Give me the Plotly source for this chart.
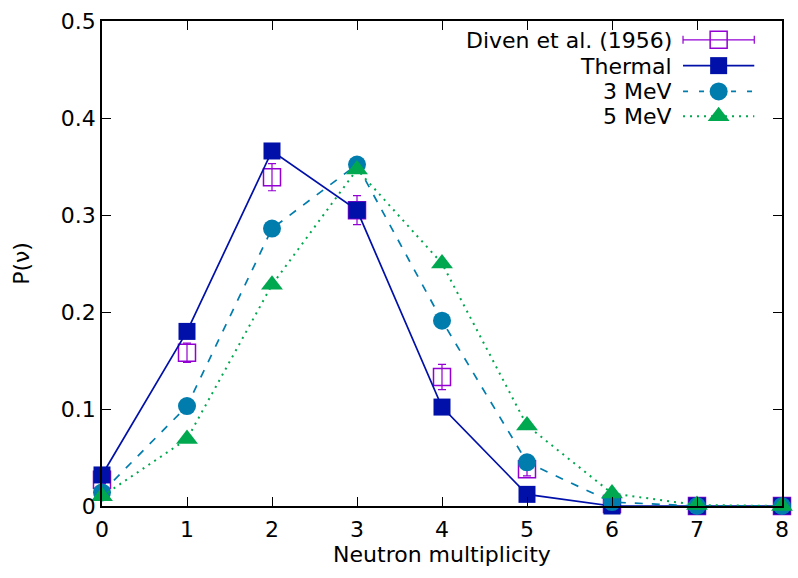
import plotly.graph_objects as go

nu = [0, 1, 2, 3, 4, 5, 6, 7, 8]
diven = [0.027, 0.158, 0.339, 0.305, 0.133, 0.038, 0.002, 0.000, 0.000]
diven_err = [0.004, 0.010, 0.014, 0.015, 0.013, 0.007, 0.001, 0.0, 0.0]
thermal = [0.032, 0.180, 0.366, 0.305, 0.102, 0.012, 0.000, 0.000, 0.000]
mev3 = [0.014, 0.103, 0.286, 0.352, 0.191, 0.045, 0.004, 0.000, 0.000]
mev5 = [0.010, 0.069, 0.228, 0.347, 0.250, 0.083, 0.013, 0.001, 0.000]

legend_labels = ["Diven et al. (1956)", "Thermal", "3 MeV", "5 MeV"]

C_DIVEN = "#9400d3"
C_TH = "#0010a8"
C_3 = "#007cad"
C_5 = "#00a850"
FONT = "DejaVu Sans, sans-serif"
FS = 22

fig = go.Figure()

fig.add_trace(go.Scatter(
    x=nu, y=diven, mode="markers", cliponaxis=False,
    marker=dict(symbol="square-open", size=17, color=C_DIVEN, line=dict(width=1.5, color=C_DIVEN)),
    error_y=dict(type="data", array=diven_err, color=C_DIVEN, thickness=1.2, width=4),
    showlegend=False))
fig.add_trace(go.Scatter(
    x=nu, y=thermal, mode="lines+markers", cliponaxis=False,
    line=dict(color=C_TH, width=1.7),
    marker=dict(symbol="square", size=17, color=C_TH),
    showlegend=False))
fig.add_trace(go.Scatter(
    x=nu, y=mev3, mode="lines+markers", cliponaxis=False,
    line=dict(color=C_3, width=1.7, dash="8px,9px"),
    marker=dict(symbol="circle", size=18, color=C_3),
    showlegend=False))
fig.add_trace(go.Scatter(
    x=nu, y=mev5, mode="lines+markers", cliponaxis=False,
    line=dict(color=C_5, width=2, dash="2px,5px"),
    marker=dict(symbol="triangle-up", size=19, color=C_5),
    showlegend=False))

# custom legend (text left, sample right, as in gnuplot)
L, R, T, B = 102, 789, 17, 506
W, H = R - L, B - T
sx0, sx1, sxc = (689 - L) / W, (761 - L) / W, (725 - L) / W
text_x = (680 - L) / W
rows = [(B - y) / H for y in (36, 62, 88, 113)]

fig.add_trace(go.Scatter(
    x=[sxc], y=[rows[0]], xaxis="x2", yaxis="y2", mode="markers", cliponaxis=False,
    marker=dict(symbol="square-open", size=17, color=C_DIVEN, line=dict(width=1.5, color=C_DIVEN)),
    error_x=dict(type="constant", value=(sx1 - sx0) / 2, color=C_DIVEN, thickness=1.2, width=4),
    showlegend=False, hoverinfo="skip"))
fig.add_trace(go.Scatter(
    x=[sx0, sxc, sx1], y=[rows[1]] * 3, xaxis="x2", yaxis="y2", mode="lines", cliponaxis=False,
    line=dict(color=C_TH, width=1.7), showlegend=False, hoverinfo="skip"))
fig.add_trace(go.Scatter(
    x=[sxc], y=[rows[1]], xaxis="x2", yaxis="y2", mode="markers", cliponaxis=False,
    marker=dict(symbol="square", size=17, color=C_TH), showlegend=False, hoverinfo="skip"))
fig.add_trace(go.Scatter(
    x=[sx0, sx1], y=[rows[2]] * 2, xaxis="x2", yaxis="y2", mode="lines", cliponaxis=False,
    line=dict(color=C_3, width=1.7, dash="5px,11px"), showlegend=False, hoverinfo="skip"))
fig.add_trace(go.Scatter(
    x=[sxc], y=[rows[2]], xaxis="x2", yaxis="y2", mode="markers", cliponaxis=False,
    marker=dict(symbol="circle", size=18, color=C_3), showlegend=False, hoverinfo="skip"))
fig.add_trace(go.Scatter(
    x=[sx0, sx1], y=[rows[3]] * 2, xaxis="x2", yaxis="y2", mode="lines", cliponaxis=False,
    line=dict(color=C_5, width=2, dash="2px,5px"), showlegend=False, hoverinfo="skip"))
fig.add_trace(go.Scatter(
    x=[sxc], y=[rows[3]], xaxis="x2", yaxis="y2", mode="markers", cliponaxis=False,
    marker=dict(symbol="triangle-up", size=19, color=C_5), showlegend=False, hoverinfo="skip"))

annotations = []
for lab, ry in zip(legend_labels, rows):
    annotations.append(dict(x=text_x, y=ry, xref="paper", yref="paper", text=lab,
                            showarrow=False, xanchor="right", yanchor="middle", height=24,
                            font=dict(family=FONT, size=FS, color="black")))

axis_common = dict(showgrid=False, zeroline=False, showline=True, linecolor="black",
                   linewidth=1.5, mirror="ticks", ticks="inside", ticklen=9,
                   tickcolor="black", tickwidth=1,
                   tickfont=dict(family=FONT, size=FS, color="black"))

fig.update_layout(
    width=798, height=578,
    margin=dict(l=L, r=798 - R, t=T, b=578 - B),
    paper_bgcolor="white", plot_bgcolor="white",
    xaxis=dict(range=[0, 8], tickvals=nu, ticktext=[str(v) for v in nu], ticklabelstandoff=3,
               title=dict(text="Neutron multiplicity", font=dict(family=FONT, size=FS, color="black"), standoff=0),
               **axis_common),
    yaxis=dict(range=[0, 0.5], tickvals=[0, 0.1, 0.2, 0.3, 0.4, 0.5],
               ticktext=["0", "0.1", "0.2", "0.3", "0.4", "0.5"],
               title=dict(text="P(ν)", font=dict(family=FONT, size=FS, color="black"), standoff=25),
               **axis_common),
    xaxis2=dict(range=[0, 1], overlaying="x", visible=False),
    yaxis2=dict(range=[0, 1], overlaying="y", visible=False),
    annotations=annotations,
    showlegend=False,
)

fig.write_html("out.html")
